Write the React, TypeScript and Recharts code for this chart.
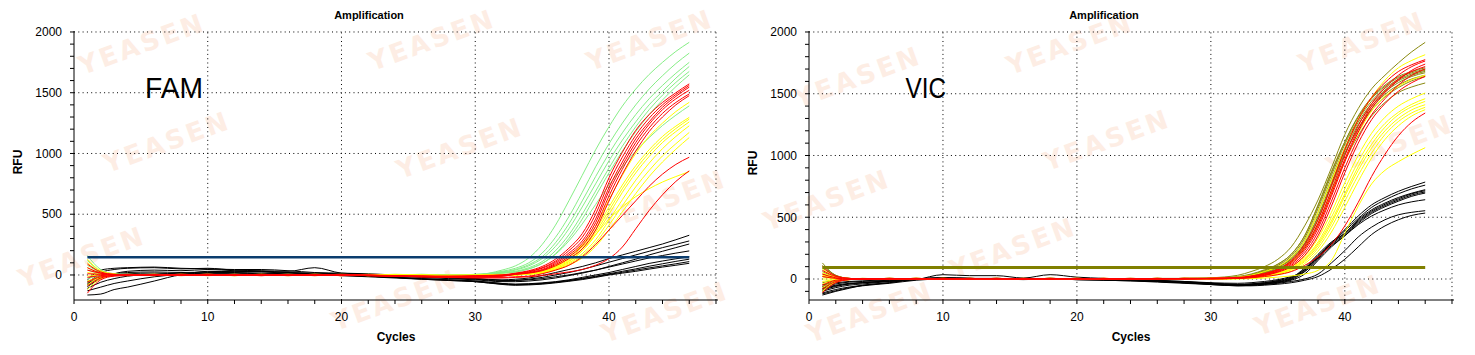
import React from 'react';
import { LineChart, Line, XAxis, YAxis, ReferenceLine } from 'recharts';

// Shared cycle grid for all amplification curves
const CYCLES = [1, 2, 3, 4, 6, 8, 10, 12, 14, 16, 18, 20, 22, 24, 26, 28, 30, 32, 33, 34, 35, 36, 37, 38, 39, 40, 41, 42, 43, 44, 45, 46];
const THRESHOLD_CYCLES = [1, 46];

const X_TICKS = [0, 2, 4, 6, 8, 10, 12, 14, 16, 18, 20, 22, 24, 26, 28, 30, 32, 34, 36, 38, 40, 42, 44, 46, 48];
const X_GRID = [10, 20, 30, 40, 48];
const Y_TICKS = [-100, 0, 100, 200, 300, 400, 500, 600, 700, 800, 900, 1000, 1100, 1200, 1300, 1400, 1500, 1600, 1700, 1800, 1900, 2000];
const Y_GRID = [0, 500, 1000, 1500, 2000];

// ---------- FAM ----------
const FAM_THRESHOLD = 145;

const FAM_GREEN = [
  [160, 45, 10, 5, 0, 0, 5, 0, -5, 0, 5, 0, -5, 0, 0, -5, 0, 40, 75, 140, 250, 410, 610, 820, 1030, 1220, 1390, 1530, 1650, 1750, 1840, 1915],
  [-60, -15, 0, 5, 5, 0, 0, 5, 0, -5, 0, 5, 0, -5, 0, 0, 5, 30, 55, 100, 180, 310, 480, 680, 890, 1080, 1250, 1400, 1530, 1640, 1740, 1826],
  [120, 30, 5, 0, -5, 0, 5, 0, 0, 5, 0, -5, 0, 0, 5, 0, 0, 25, 45, 85, 150, 265, 420, 610, 810, 1000, 1170, 1320, 1450, 1560, 1660, 1750],
  [80, 20, 0, -5, 0, 5, 0, -5, 0, 0, 5, 0, 0, -5, 0, 0, 5, 20, 40, 75, 135, 235, 380, 560, 750, 940, 1110, 1260, 1400, 1510, 1620, 1716],
  [-30, -5, 5, 0, 0, -5, 0, 5, 0, 0, -5, 0, 5, 0, 0, -5, 0, 18, 30, 60, 110, 200, 330, 500, 690, 880, 1060, 1220, 1360, 1480, 1585, 1675],
  [40, 10, 0, 5, 0, 0, -5, 0, 5, 0, 0, 0, -5, 0, 5, 0, 0, 15, 25, 50, 95, 175, 300, 460, 650, 840, 1020, 1180, 1320, 1440, 1550, 1647],
  [-90, -20, -5, 0, 5, 0, 0, -5, 0, 5, 0, 0, 0, 5, 0, -5, 0, 15, 25, 50, 95, 170, 280, 420, 580, 740, 890, 1020, 1130, 1230, 1315, 1392],
];

const FAM_YELLOW = [
  [130, 35, 10, 0, 0, 5, 0, -5, 0, 0, 5, 0, -5, 0, -5, -5, 0, 5, 5, 15, 35, 80, 150, 250, 400, 620, 820, 1000, 1140, 1250, 1345, 1421],
  [-120, -30, -5, 0, 0, 0, 5, 0, 0, -5, 0, 5, 0, -5, 0, -5, -5, 0, 5, 12, 30, 70, 135, 230, 370, 560, 740, 900, 1030, 1140, 1225, 1297],
  [20, 5, 0, 0, 5, 0, 0, -5, 0, 5, 0, 0, -5, 0, -5, 0, 0, 0, 5, 10, 28, 65, 125, 215, 350, 530, 710, 870, 1005, 1115, 1205, 1283],
  [-50, -15, 0, 5, 0, -5, 0, 0, 5, 0, 0, -5, 0, 0, -5, -5, -5, 0, 3, 10, 25, 60, 115, 200, 330, 500, 680, 840, 975, 1090, 1180, 1260],
  [100, 25, 5, 0, -5, 0, 5, 0, 0, -5, 0, 0, 5, 0, -5, -5, -5, -5, 0, 8, 20, 50, 100, 175, 290, 450, 620, 780, 920, 1040, 1140, 1228],
  [-10, 0, 5, 0, 0, 5, 0, -5, 0, 0, 5, 0, -5, 0, 0, -5, -10, -5, 0, 8, 18, 45, 90, 160, 265, 410, 570, 725, 860, 980, 1080, 1173],
  [60, 15, 0, -5, 0, 0, 0, 5, 0, 0, -5, 0, 0, 5, 0, -5, -5, -5, 0, 5, 15, 40, 80, 140, 235, 370, 520, 670, 810, 930, 1035, 1131],
  [-80, -20, -5, 0, 5, 0, -5, 0, 5, 0, 0, -5, 0, -5, -5, -10, -10, -5, 0, 8, 20, 50, 110, 200, 330, 460, 560, 645, 710, 765, 810, 851],
];

const FAM_RED = [
  [90, 25, 5, 0, -5, 0, 5, 0, -5, 0, 0, -5, 0, -10, -10, -15, -10, 0, 15, 35, 70, 130, 220, 340, 540, 800, 1010, 1190, 1320, 1420, 1500, 1573],
  [-150, -40, -10, -5, 0, 5, 0, 0, 5, 0, -5, 0, -5, -10, -15, -15, -10, -5, 12, 30, 60, 115, 200, 310, 500, 760, 970, 1150, 1290, 1400, 1485, 1560],
  [40, 15, 5, 0, 0, -5, 0, 5, 0, -5, 0, 5, 0, -5, -10, -10, -5, 0, 10, 25, 55, 105, 180, 280, 460, 720, 930, 1120, 1260, 1380, 1470, 1546],
  [-20, -5, 0, 5, 0, 0, -5, 0, 0, 5, 0, -5, -5, -10, -10, -15, -15, -10, 8, 20, 45, 95, 165, 260, 430, 690, 900, 1090, 1240, 1360, 1450, 1520],
  [-90, -25, -5, 0, 5, 0, 0, -5, 0, 0, -5, 0, -5, -5, -10, -15, -15, -10, 5, 18, 40, 85, 150, 240, 400, 650, 870, 1060, 1210, 1330, 1420, 1490],
  [10, 5, 0, 0, -5, 0, 5, 0, -5, 0, 0, -5, 0, -10, -10, -10, -10, -5, 5, 15, 35, 75, 135, 215, 370, 610, 830, 1020, 1180, 1300, 1400, 1476],
  [-60, -15, -5, 0, 0, 5, 0, 0, -5, 0, 5, 0, -5, -10, -15, -20, -20, -20, -15, -10, 10, 40, 80, 150, 250, 370, 490, 610, 730, 830, 910, 969],
  [60, 15, 0, -5, 0, 0, 5, 0, 0, -5, 0, 0, -5, -10, -15, -20, -25, -25, -20, -15, -5, 10, 25, 45, 80, 135, 230, 380, 530, 660, 770, 857],
];

const FAM_BLACK = [
  [-41, 40, 55, 60, 65, 55, 50, 45, 45, 35, 20, 15, 10, 0, -10, -20, -30, -40, -35, -25, -5, 20, 45, 70, 100, 135, 165, 195, 225, 255, 290, 327],
  [-82, 20, 45, 55, 60, 50, 55, 40, 35, 30, 60, 15, 5, -5, -15, -25, -35, -50, -45, -35, -20, 0, 20, 45, 75, 105, 135, 165, 195, 225, 252, 280],
  [-96, -30, 10, 30, 40, 35, 45, 35, 30, 20, 15, 10, 0, -10, -20, -30, -40, -55, -55, -50, -40, -25, -5, 15, 40, 70, 100, 130, 165, 195, 225, 255],
  [-69, -20, 0, 10, 15, 10, 30, 25, 30, 20, 10, 5, 0, -10, -15, -20, -30, -45, -45, -40, -30, -15, 0, 20, 40, 65, 90, 115, 140, 160, 180, 198],
  [-165, -157, -120, -100, -50, 0, 10, 10, 5, 5, 0, -5, -10, -20, -30, -40, -50, -70, -75, -72, -65, -55, -40, -20, 0, 20, 45, 70, 95, 115, 133, 150],
  [-130, -100, -70, -50, -15, 5, 15, 15, 10, 5, 0, -5, -15, -25, -35, -45, -55, -75, -80, -78, -70, -60, -45, -28, -10, 10, 30, 50, 72, 92, 112, 130],
  [-110, -60, -30, -10, 5, 10, 20, 20, 15, 10, 5, 0, -10, -20, -30, -40, -50, -70, -78, -75, -70, -60, -48, -32, -15, 5, 22, 40, 58, 75, 92, 110],
  [-55, -10, 10, 20, 25, 20, 25, 30, 25, 15, 10, 0, -10, -20, -35, -45, -55, -78, -85, -82, -76, -65, -52, -38, -20, 0, 15, 30, 48, 65, 80, 96],
];

// ---------- VIC ----------
const VIC_THRESHOLD = 94;

const VIC_OLIVE = [
  [130, 30, 5, 0, 0, 0, 5, 0, 0, 0, 5, 0, 0, 0, 5, 5, 10, 30, 60, 100, 160, 260, 430, 640, 900, 1170, 1380, 1540, 1650, 1750, 1840, 1916],
  [90, 25, 5, 0, 5, 0, 0, 5, 0, 0, 0, 5, 0, 0, 0, 5, 5, 20, 40, 75, 120, 200, 350, 590, 860, 1110, 1320, 1470, 1570, 1640, 1680, 1710],
  [60, 15, 0, 0, 0, 5, 0, 0, 5, 0, 0, 0, 5, 0, 0, 5, 5, 15, 35, 70, 120, 200, 350, 600, 870, 1110, 1310, 1460, 1560, 1630, 1670, 1700],
  [20, 5, 0, 5, 0, 0, 0, 5, 0, 0, 5, 0, 0, 0, 5, 0, 5, 15, 30, 65, 110, 185, 330, 570, 840, 1090, 1290, 1440, 1545, 1615, 1660, 1690],
  [-30, -10, 0, 0, 5, 0, 0, 0, 5, 0, 0, 5, 0, 0, 0, 5, 5, 12, 28, 60, 100, 170, 310, 540, 810, 1060, 1270, 1420, 1530, 1605, 1650, 1681],
  [110, 30, 5, 0, 0, 5, 0, 0, 0, 5, 0, 0, 0, 5, 0, 0, 5, 10, 25, 55, 95, 160, 290, 510, 780, 1040, 1250, 1400, 1515, 1590, 1640, 1670],
  [-60, -15, -5, 0, 0, 0, 5, 0, 0, 0, 5, 0, 0, 0, 5, 0, 5, 10, 22, 50, 85, 145, 270, 480, 750, 1010, 1220, 1380, 1495, 1570, 1620, 1650],
  [40, 10, 0, 0, 5, 0, 0, 5, 0, 0, 0, 5, 0, 0, 0, 5, 0, 8, 20, 45, 80, 135, 250, 450, 710, 960, 1160, 1320, 1430, 1510, 1555, 1587],
  [-90, -25, -5, 0, 0, 5, 0, 0, 0, 5, 0, 0, 0, 5, 0, 0, 5, 12, 25, 55, 95, 160, 285, 500, 760, 1020, 1215, 1365, 1475, 1550, 1605, 1640],
];

const VIC_YELLOW = [
  [20, 5, 0, 0, 0, 5, 0, 0, 0, 0, 5, 0, 0, 0, 0, 5, 5, 15, 30, 60, 100, 175, 310, 540, 800, 1060, 1290, 1470, 1610, 1710, 1770, 1816],
  [-20, -5, 0, 0, 5, 0, 0, 0, 5, 0, 0, 0, 5, 0, 0, 0, 5, 8, 15, 30, 55, 100, 185, 330, 540, 780, 1000, 1180, 1310, 1400, 1460, 1506],
  [50, 15, 0, 0, 0, 0, 5, 0, 0, 0, 5, 0, 0, 0, 5, 0, 5, 5, 12, 25, 50, 90, 170, 300, 500, 730, 950, 1130, 1260, 1350, 1415, 1460],
  [-100, -25, -5, 0, 0, 5, 0, 0, 0, 0, 0, 5, 0, 0, 0, 5, 0, 5, 12, 25, 45, 85, 160, 285, 470, 690, 910, 1090, 1230, 1330, 1395, 1438],
  [80, 20, 5, 0, 0, 0, 0, 5, 0, 0, 0, 0, 5, 0, 0, 0, 5, 5, 10, 22, 42, 80, 150, 270, 450, 670, 880, 1060, 1200, 1300, 1370, 1411],
  [0, 0, 0, 5, 0, 0, 0, 0, 5, 0, 0, 0, 0, 5, 0, 0, 0, 5, 10, 20, 40, 75, 140, 250, 420, 630, 840, 1020, 1170, 1275, 1345, 1390],
  [-40, -10, 0, 0, 5, 0, 0, 0, 0, 5, 0, 0, 0, 0, 5, 0, 0, 3, 8, 18, 35, 65, 125, 225, 380, 580, 790, 980, 1130, 1240, 1320, 1371],
  [30, 10, 0, 0, 0, 5, 0, 0, 0, 0, 5, 0, 0, 0, 0, 0, 0, 0, 3, 8, 15, 25, 40, 70, 150, 370, 590, 770, 880, 950, 1010, 1063],
  [-70, -20, -5, 0, 0, 0, 5, 0, 0, 0, 0, 5, 0, 0, 0, 5, 5, 10, 20, 40, 75, 135, 250, 440, 700, 960, 1180, 1360, 1480, 1560, 1615, 1650],
];

const VIC_RED = [
  [40, 10, 0, 0, 5, 0, 0, 0, 5, 0, 0, 0, 5, 0, 0, 5, 5, 12, 25, 45, 80, 150, 280, 480, 760, 1050, 1290, 1470, 1590, 1680, 1735, 1776],
  [-110, -30, -5, 0, 0, 0, 5, 0, 0, 0, 5, 0, 0, 0, 5, 0, 5, 10, 22, 42, 75, 140, 260, 450, 720, 1000, 1240, 1420, 1550, 1650, 1720, 1765],
  [70, 20, 5, 0, 0, 5, 0, 0, 0, 5, 0, 0, 0, 5, 0, 0, 5, 8, 18, 35, 65, 120, 230, 410, 670, 950, 1190, 1380, 1510, 1610, 1690, 1740],
  [-50, -10, 0, 0, 5, 0, 0, 5, 0, 0, 0, 5, 0, 0, 0, 5, 0, 8, 15, 30, 60, 110, 210, 380, 630, 900, 1140, 1330, 1460, 1570, 1650, 1700],
  [100, 25, 5, 0, 0, 0, 0, 5, 0, 0, 5, 0, 0, 0, 5, 0, 5, 5, 12, 28, 55, 100, 190, 350, 590, 860, 1100, 1290, 1420, 1520, 1590, 1640],
  [-80, -20, -5, 0, 0, 5, 0, 0, 5, 0, 0, 0, 5, 0, 0, 0, 0, 5, 10, 20, 35, 60, 110, 180, 280, 430, 620, 830, 1010, 1160, 1270, 1344],
  [20, 5, 0, 0, 0, 0, 5, 0, 0, 0, 0, 5, 0, 0, 0, 5, 5, 8, 18, 38, 70, 130, 245, 430, 690, 970, 1210, 1400, 1520, 1620, 1680, 1720],
];

const VIC_BLACK = [
  [-46, -30, -20, -15, -5, 0, 10, 5, 0, 0, 5, 0, -5, -10, -15, -20, -30, -35, -30, -20, -5, 20, 60, 160, 290, 400, 510, 600, 660, 710, 750, 785],
  [-73, -50, -35, -30, -20, -5, 35, 27, 27, 8, 35, 15, 5, -5, -10, -20, -35, -45, -40, -30, -15, 10, 90, 200, 300, 370, 480, 560, 615, 660, 695, 723],
  [-113, -85, -65, -50, -30, 0, 10, 5, 5, 0, 5, 0, -5, -10, -15, -25, -40, -50, -45, -35, -20, 5, 80, 190, 290, 370, 470, 550, 605, 650, 690, 715],
  [-130, -100, -75, -52, -30, 0, 5, 5, 0, 0, 0, -5, -5, -10, -20, -30, -40, -50, -48, -40, -25, 0, 70, 180, 280, 360, 460, 540, 595, 640, 680, 705],
  [-90, -60, -40, -30, -15, 0, 5, 0, 0, 0, 0, -5, -5, -10, -20, -30, -45, -55, -50, -40, -25, -5, 60, 170, 270, 350, 450, 530, 585, 630, 670, 696],
  [-60, -40, -25, -20, -10, 0, 5, 0, 5, 0, 0, 0, -5, -10, -15, -25, -35, -45, -45, -40, -30, -10, 40, 150, 260, 350, 440, 510, 560, 600, 625, 642],
  [-100, -70, -50, -40, -20, -5, 5, 0, 0, 0, 0, -5, -10, -15, -20, -30, -40, -50, -50, -45, -35, -20, 0, 40, 130, 230, 340, 420, 480, 520, 540, 553],
  [-120, -95, -70, -55, -35, -10, 0, 0, 0, -5, 0, -5, -10, -15, -25, -35, -45, -55, -55, -50, -42, -30, -10, 20, 80, 160, 260, 360, 430, 480, 515, 534],
  [-80, -55, -40, -30, -15, 0, 10, 5, 0, 0, 0, 0, -5, -10, -15, -25, -35, -45, -40, -30, -12, 15, 75, 180, 290, 390, 490, 580, 640, 690, 730, 760],
];

const WATERMARKS: [number, number][] = [
  [142, 44], [167, 142], [432, 40], [650, 40], [460, 148], [82, 257], [395, 300], [663, 200], [665, 312],
  [858, 77], [1070, 44], [1107, 140], [1362, 42], [1390, 145], [827, 200], [1013, 248], [870, 312], [1318, 305],
];

const toData = (cycles: number[], vals: number[]) => cycles.map((c, i) => ({ c, v: vals[i] }));
const levelData = (level: number) => THRESHOLD_CYCLES.map((c) => ({ c, v: level }));

const FONT = 'Liberation Sans, Arial, Helvetica, sans-serif';

type Group = { color: string; curves: number[][] };

function Panel(props: {
  left: number;
  width: number;
  marginRight: number;
  yDomain: [number, number];
  groups: Group[];
  threshold: number;
  thresholdColor: string;
  thresholdWidth: number;
  name: string;
}) {
  const { left, width, marginRight, yDomain, groups, threshold, thresholdColor, thresholdWidth, name } = props;
  const yTicks = Y_TICKS.filter((t) => t >= yDomain[0] && t <= yDomain[1]);
  return (
    <div style={{ position: 'absolute', left, top: 0 }}>
      <LineChart width={width} height={355} margin={{ top: 31, right: marginRight, bottom: 0, left: 0 }}>
        <XAxis
          xAxisId="b"
          dataKey="c"
          type="number"
          domain={[0, 48.15]}
          allowDataOverflow
          ticks={X_TICKS}
          interval={0}
          tickFormatter={(v: number) => (v % 10 === 0 ? String(v) : '')}
          height={55}
          tickSize={4}
          tickMargin={8}
          stroke="#000"
          tick={{ fill: '#000', fontSize: 12, fontFamily: FONT }}
        />
        <XAxis
          xAxisId="t"
          orientation="top"
          type="number"
          domain={[0, 48.15]}
          allowDataOverflow
          ticks={X_TICKS}
          interval={0}
          tickFormatter={() => ''}
          height={0}
          mirror
          tickSize={3}
          stroke="#000"
        />
        <YAxis
          yAxisId="l"
          type="number"
          domain={yDomain}
          allowDataOverflow
          ticks={yTicks}
          interval={0}
          tickFormatter={(v: number) => (v % 500 === 0 ? String(v) : '')}
          width={74}
          tickSize={4}
          tickMargin={8}
          stroke="#000"
          tick={{ fill: '#000', fontSize: 12, fontFamily: FONT }}
        />
        <YAxis
          yAxisId="r"
          orientation="right"
          type="number"
          domain={yDomain}
          allowDataOverflow
          ticks={yTicks}
          interval={0}
          tickFormatter={() => ''}
          width={0}
          mirror
          tickSize={3}
          stroke="#000"
        />
        {X_GRID.map((x) => (
          <ReferenceLine key={'gx' + x} x={x} xAxisId="b" yAxisId="l" stroke="#000" strokeDasharray="1 3.3" />
        ))}
        {Y_GRID.map((y) => (
          <ReferenceLine key={'gy' + y} y={y} xAxisId="b" yAxisId="l" stroke="#000" strokeDasharray="1 3.3" />
        ))}
        {groups.map((g, gi) =>
          g.curves.map((vals, i) => (
            <Line
              key={name + gi + '-' + i}
              xAxisId="b"
              yAxisId="l"
              data={toData(CYCLES, vals)}
              dataKey="v"
              type="monotone"
              stroke={g.color}
              strokeWidth={1}
              dot={false}
              activeDot={false}
              isAnimationActive={false}
            />
          ))
        )}
        <Line
          key={name + 'thr'}
          xAxisId="b"
          yAxisId="l"
          data={levelData(threshold)}
          dataKey="v"
          type="linear"
          stroke={thresholdColor}
          strokeWidth={thresholdWidth}
          dot={false}
          activeDot={false}
          isAnimationActive={false}
        />
      </LineChart>
    </div>
  );
}

export default function App() {
  return (
    <div style={{ position: 'absolute', left: 0, top: 0, width: 1475, height: 355, background: '#fff', overflow: 'hidden' }}>
      <svg width={1475} height={355} style={{ position: 'absolute', left: 0, top: 0 }}>
        {WATERMARKS.map(([x, y], i) => (
          <text
            key={'wm' + i}
            x={x}
            y={y}
            textAnchor="middle"
            dominantBaseline="central"
            transform={`rotate(-20 ${x} ${y})`}
            fontSize={26}
            fontWeight={700}
            letterSpacing={3}
            fontFamily="DejaVu Sans, sans-serif"
            fill="#fdede4"
          >
            YEASEN
          </text>
        ))}
      </svg>
      <Panel
        name="fam"
        left={0}
        width={737}
        marginRight={19}
        yDomain={[-206, 2008]}
        groups={[
          { color: '#000000', curves: FAM_BLACK },
          { color: '#86ee86', curves: FAM_GREEN },
          { color: '#ffff00', curves: FAM_YELLOW },
          { color: '#ff0000', curves: FAM_RED },
        ]}
        threshold={FAM_THRESHOLD}
        thresholdColor="#0b3d6e"
        thresholdWidth={2.5}
      />
      <Panel
        name="vic"
        left={735}
        width={740}
        marginRight={21}
        yDomain={[-170, 2008]}
        groups={[
          { color: '#000000', curves: VIC_BLACK },
          { color: '#8a8a10', curves: VIC_OLIVE },
          { color: '#ffff00', curves: VIC_YELLOW },
          { color: '#ff0000', curves: VIC_RED },
        ]}
        threshold={VIC_THRESHOLD}
        thresholdColor="#808000"
        thresholdWidth={3}
      />
      <svg width={1475} height={355} style={{ position: 'absolute', left: 0, top: 0, pointerEvents: 'none' }}>
        <text x={369} y={19} textAnchor="middle" fontSize={11} fontWeight={700} fontFamily={FONT} fill="#000">Amplification</text>
        <text x={1104} y={19} textAnchor="middle" fontSize={11} fontWeight={700} fontFamily={FONT} fill="#000">Amplification</text>
        <text transform="translate(21.5,162) rotate(-90)" textAnchor="middle" fontSize={12} fontWeight={700} fontFamily={FONT} fill="#000">RFU</text>
        <text transform="translate(756.5,163) rotate(-90)" textAnchor="middle" fontSize={12} fontWeight={700} fontFamily={FONT} fill="#000">RFU</text>
        <text x={396} y={341} textAnchor="middle" fontSize={12} fontWeight={700} fontFamily={FONT} fill="#000">Cycles</text>
        <text x={1131} y={341} textAnchor="middle" fontSize={12} fontWeight={700} fontFamily={FONT} fill="#000">Cycles</text>
        <text x={145} y={98} fontSize={30} fontFamily={FONT} fill="#000" textLength={58} lengthAdjust="spacingAndGlyphs">FAM</text>
        <text x={905.5} y={98} fontSize={30} fontFamily={FONT} fill="#000" textLength={40.5} lengthAdjust="spacingAndGlyphs">VIC</text>
      </svg>
    </div>
  );
}
